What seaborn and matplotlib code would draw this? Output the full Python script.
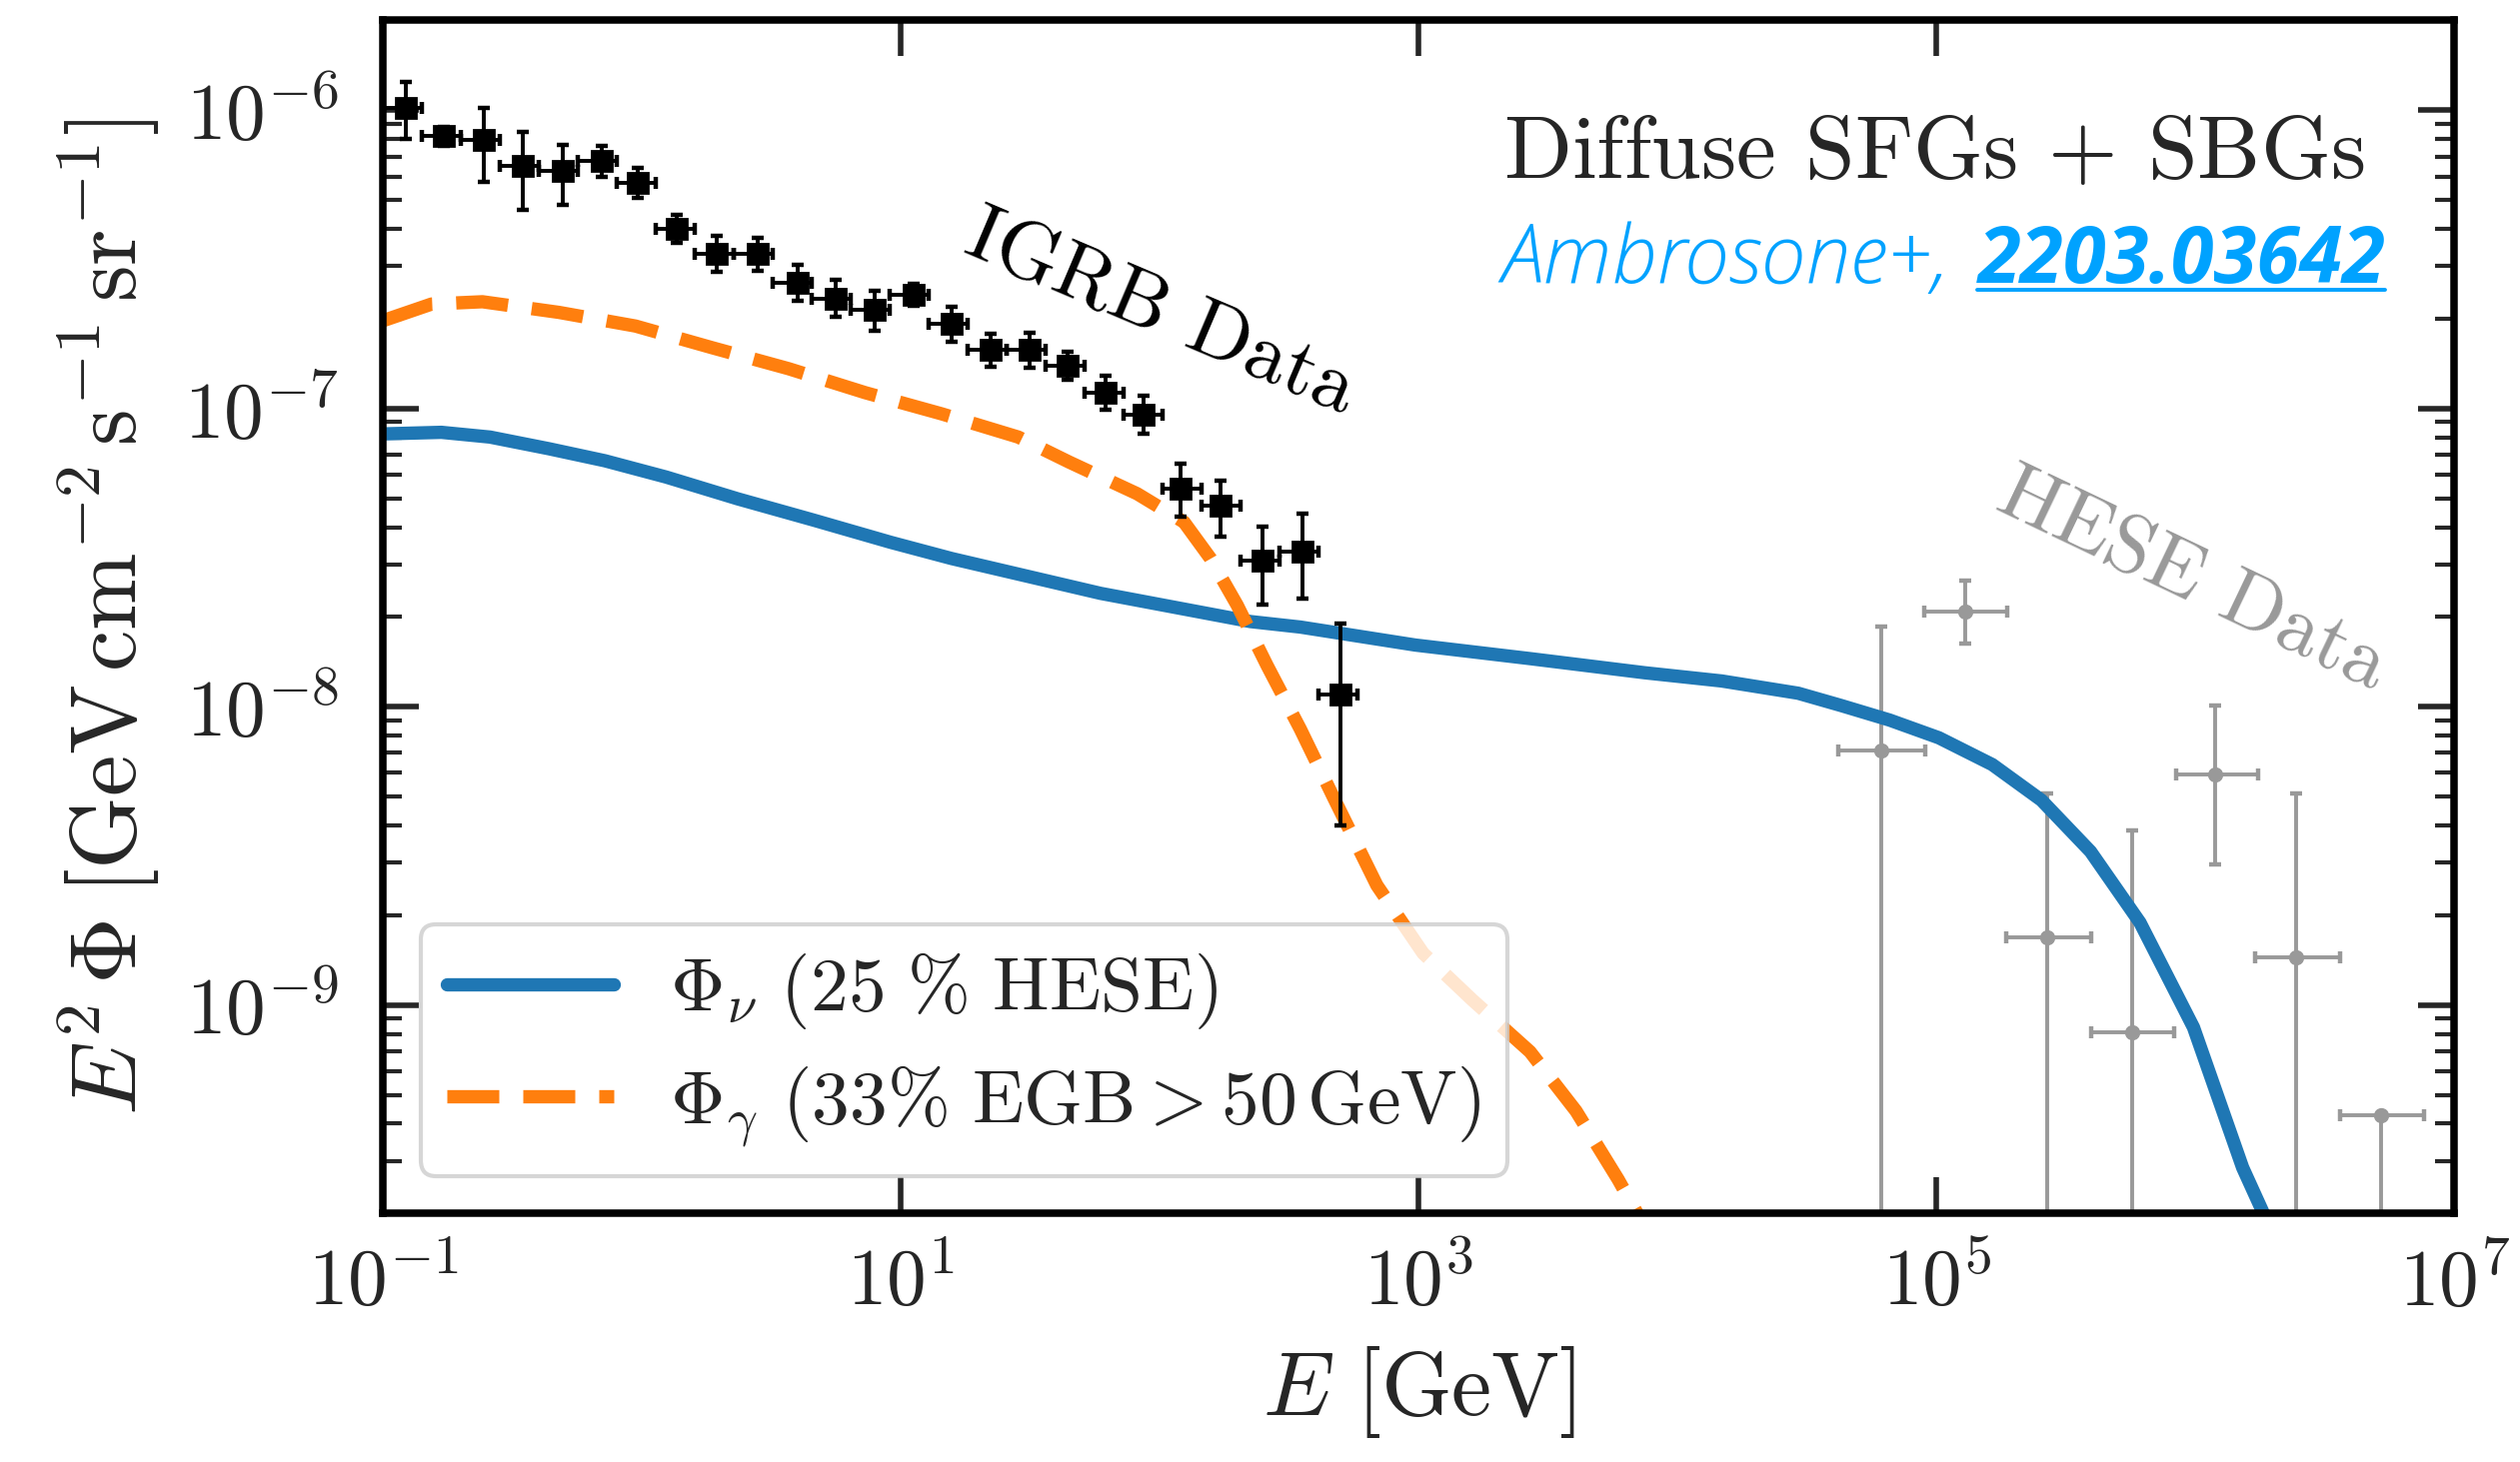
"""
Diffuse SFGs + SBGs: neutrino and gamma-ray fluxes vs. IGRB and HESE data
"""
import matplotlib
matplotlib.use("Agg")
import numpy as np
import seaborn as sns
from matplotlib import pyplot as plt
from matplotlib.lines import Line2D
from matplotlib.ticker import NullLocator

# model curves
nu_energy = [0.1, 0.168, 0.259, 0.437, 0.719, 1.24, 2.34, 4.62, 9.12, 15.7, 59.0, 224, 349, 970,
             2690, 7460, 1.48e4, 2.92e4, 4.27e4, 6.59e4, 1.02e5, 1.64e5, 2.54e5, 3.93e5, 6.10e5,
             9.82e5, 1.52e6, 1.82e6, 2.09e6]
nu_flux = [8.22e-8, 8.32e-8, 8.02e-8, 7.33e-8, 6.68e-8, 5.89e-8, 4.98e-8, 4.22e-8, 3.56e-8, 3.14e-8,
           2.40e-8, 1.93e-8, 1.85e-8, 1.61e-8, 1.45e-8, 1.30e-8, 1.22e-8, 1.11e-8, 1.01e-8, 9.02e-9,
           7.87e-9, 6.40e-9, 4.86e-9, 3.27e-9, 1.89e-9, 8.41e-10, 2.85e-10, 2.02e-10, 1.55e-10]

gamma_energy = [0.1, 0.154, 0.242, 0.478, 0.944, 1.86, 3.68, 7.28, 14.4, 28.4, 44.7, 81.7, 124, 157,
                199, 259, 349, 470, 689, 1040, 1610, 2690, 4050, 5890, 6980, 7940]
gamma_flux = [1.97e-7, 2.24e-7, 2.28e-7, 2.10e-7, 1.89e-7, 1.60e-7, 1.36e-7, 1.13e-7, 9.59e-8,
              8.02e-8, 6.61e-8, 5.18e-8, 4.16e-8, 3.14e-8, 2.19e-8, 1.38e-8, 8.41e-9, 4.94e-9,
              2.52e-9, 1.49e-9, 1.04e-9, 6.97e-10, 4.41e-10, 2.60e-10, 2.00e-10, 1.58e-10]

# IGRB data (Fermi-LAT)
igrb_energy = [0.1225, 0.172, 0.245, 0.348, 0.496, 0.697, 0.963, 1.357, 1.95, 2.81, 3.98, 5.62,
               7.90, 11.2, 15.7, 22.3, 31.3, 44.0, 61.9, 86.3, 120, 171, 250, 355, 499]
igrb_bin_edges = [0.100, 0.141, 0.200, 0.283, 0.400, 0.566, 0.800, 1.13, 1.60, 2.26, 3.20, 4.53,
                  6.40, 9.05, 12.8, 18.1, 25.6, 36.2, 51.2, 72.4, 102, 145, 205, 290, 410, 580]
igrb_flux = [1.02e-6, 8.2e-7, 7.96e-7, 6.52e-7, 6.24e-7, 6.74e-7, 5.71e-7, 4.01e-7, 3.31e-7,
             3.29e-7, 2.64e-7, 2.34e-7, 2.14e-7, 2.40e-7, 1.92e-7, 1.57e-7, 1.57e-7, 1.39e-7,
             1.13e-7, 9.5e-8, 5.38e-8, 4.71e-8, 3.10e-8, 3.30e-8, 1.10e-8]
igrb_flux_lo = [8.0e-7, 7.6e-7, 5.74e-7, 4.63e-7, 4.82e-7, 6.0e-7, 5.1e-7, 3.6e-7, 2.88e-7,
                2.9e-7, 2.3e-7, 2.03e-7, 1.82e-7, 2.21e-7, 1.68e-7, 1.38e-7, 1.37e-7, 1.25e-7,
                9.9e-8, 8.2e-8, 4.33e-8, 3.71e-8, 2.20e-8, 2.31e-8, 3.99e-9]
igrb_flux_hi = [1.24e-6, 8.8e-7, 1.016e-6, 8.49e-7, 7.67e-7, 7.6e-7, 6.4e-7, 4.46e-7, 3.80e-7,
                3.74e-7, 3.03e-7, 2.70e-7, 2.48e-7, 2.61e-7, 2.19e-7, 1.78e-7, 1.80e-7, 1.55e-7,
                1.29e-7, 1.10e-7, 6.52e-8, 5.74e-8, 4.03e-8, 4.43e-8, 1.90e-8]

# HESE data (IceCube)
hese_energy = [6.1e4, 1.29e5, 2.68e5, 5.68e5, 1.19e6, 2.45e6, 5.2e6]
hese_energy_lo = [4.18e4, 8.97e4, 1.86e5, 3.94e5, 8.38e5, 1.70e6, 3.61e6]
hese_energy_hi = [9.06e4, 1.87e5, 3.96e5, 8.28e5, 1.75e6, 3.61e6, 7.64e6]
hese_flux = [7.16e-9, 2.09e-8, 1.69e-9, 8.13e-10, 5.92e-9, 1.44e-9, 4.28e-10]
hese_flux_lo = [1e-11, 1.63e-8, 1e-11, 1e-11, 2.97e-9, 1e-11, 1e-11]
hese_flux_hi = [1.86e-8, 2.65e-8, 5.12e-9, 3.85e-9, 1.01e-8, 5.12e-9, 4.28e-10]

x_ticks = [1e-1, 1e1, 1e3, 1e5, 1e7]

BLUE = '#1f77b4'
ORANGE = '#ff7f0e'
GREY = '#999999'
LINK = '#00a2ff'


def plot():
    sns.set_style('ticks')
    plt.rcParams['font.family'] = 'serif'
    plt.rcParams['font.serif'] = ['cmr10']
    plt.rcParams['mathtext.fontset'] = 'cm'
    plt.rcParams['axes.formatter.use_mathtext'] = True

    fig, ax = plt.subplots(figsize=(2521 / 200, 1463 / 200), dpi=200)
    fig.subplots_adjust(left=0.152, right=0.974, bottom=0.170, top=0.986)
    ax.set_xscale('log')
    ax.set_yscale('log')

    # HESE points sit under the model lines
    ax.errorbar(hese_energy, hese_flux,
                xerr=[np.subtract(hese_energy, hese_energy_lo), np.subtract(hese_energy_hi, hese_energy)],
                yerr=[np.subtract(hese_flux, hese_flux_lo), np.subtract(hese_flux_hi, hese_flux)],
                fmt='o', color=GREY, ms=4.5, elinewidth=1.4, capsize=2.0, capthick=1.6, zorder=1)

    sns.lineplot(x=nu_energy, y=nu_flux, ax=ax, color=BLUE, linewidth=4.8, sort=False, estimator=None,
                 label=r'$\Phi_\nu\ (25\ \%\ \mathrm{HESE})$', zorder=2)
    sns.lineplot(x=gamma_energy, y=gamma_flux, ax=ax, color=ORANGE, linewidth=4.8, sort=False,
                 estimator=None, linestyle=(0, (3.9, 1.8)),
                 label=r'$\Phi_\gamma\ (33\%\ \mathrm{EGB} > 50\,\mathrm{GeV})$', zorder=2)

    ax.errorbar(igrb_energy, igrb_flux,
                xerr=[np.subtract(igrb_energy, igrb_bin_edges[:-1]),
                      np.subtract(igrb_bin_edges[1:], igrb_energy)],
                yerr=[np.subtract(igrb_flux, igrb_flux_lo), np.subtract(igrb_flux_hi, igrb_flux)],
                fmt='s', color='black', ms=7.5, elinewidth=1.4, capsize=2.2, capthick=1.6, zorder=3)

    ax.set_xlim(1e-1, 1e7)
    ax.set_ylim(2e-10, 2e-6)
    ax.set_xticks(x_ticks)
    ax.xaxis.set_minor_locator(NullLocator())

    ax.tick_params(which='both', direction='in', top=True, right=True, labelsize=28.5)
    ax.tick_params(which='major', length=13, width=2.0)
    ax.tick_params(which='minor', length=7, width=1.5)
    ax.tick_params(axis='x', pad=12)
    ax.tick_params(axis='y', pad=16)
    for s in ax.spines.values():
        s.set_linewidth(2.7)
        s.set_color('black')

    ax.set_xlabel(r'$E\ [\mathrm{GeV}]$', fontsize=32.5, labelpad=8)
    ax.set_ylabel(r'$E^2\,\Phi\;[\mathrm{GeV\,cm^{-2}\,s^{-1}\,sr^{-1}}]$', fontsize=33.5, labelpad=8)

    ax.text(101, 2.07e-7, 'IGRB Data', rotation=-23, rotation_mode='anchor',
            ha='center', va='center', fontsize=29.5, color='black')
    ax.text(9.75e5, 2.65e-8, 'HESE Data', rotation=-25.5, rotation_mode='anchor',
            ha='center', va='center', fontsize=29.5, color=GREY)

    ax.text(0.9566, 0.8677, r'Diffuse SFGs $+$ SBGs', transform=ax.transAxes,
            ha='right', va='baseline', fontsize=32.2)
    num = ax.text(0.9667, 0.780, '2203.03642', transform=ax.transAxes, ha='right', va='baseline',
                  fontsize=28, family='Open Sans', style='italic', weight='bold', color=LINK)

    leg = ax.legend(loc='lower left', fontsize=27.2, handlelength=2.2, handletextpad=0.75,
                    borderpad=0.35, labelspacing=0.42, framealpha=0.8, edgecolor='0.8', fancybox=True)
    leg.get_frame().set_linewidth(1.5)

    # second half of the credit line and the underline need the number's extent
    fig.canvas.draw()
    bb = num.get_window_extent()
    base_y = ax.transAxes.transform((0.9667, 0.780))[1]
    inv = fig.transFigure.inverted()
    left = inv.transform((bb.x0 - 28, base_y))
    fig.text(left[0], left[1], 'Ambrosone+,', ha='right', va='baseline', fontsize=29,
             family='Open Sans', style='italic', weight='light', color=LINK)
    p0 = inv.transform((bb.x0, base_y - 7))
    p1 = inv.transform((bb.x1, base_y - 7))
    fig.add_artist(Line2D([p0[0], p1[0]], [p0[1], p1[1]], color=LINK, lw=1.4,
                          transform=fig.transFigure))

    plt.savefig('out.png', dpi=200)


if __name__ == "__main__":
    plot()
